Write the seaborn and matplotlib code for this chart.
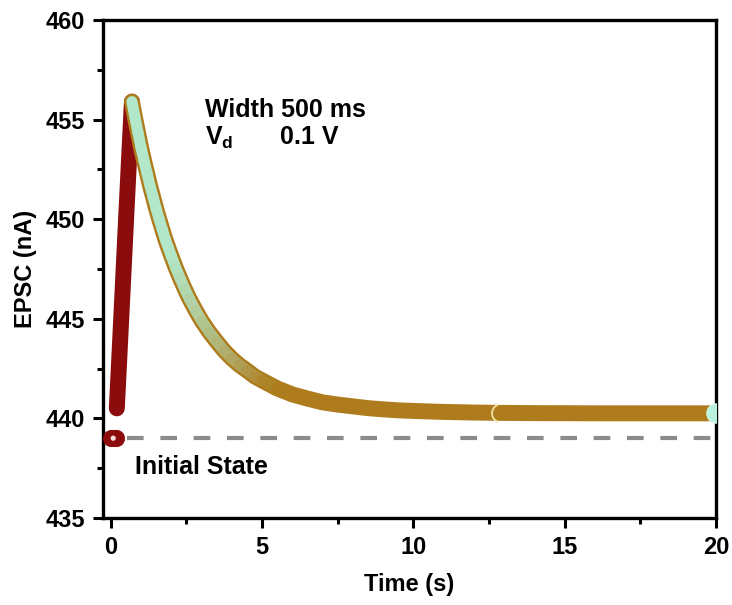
import numpy as np
import matplotlib
matplotlib.use("Agg")
import matplotlib.pyplot as plt
import seaborn as sns
from matplotlib.collections import LineCollection
from matplotlib.colors import to_rgb
from matplotlib.path import Path
from matplotlib.ticker import MultipleLocator

# ---- data ----
init_t = [0.02, 0.08, 0.14, 0.18]
init_y = [439.0, 439.0, 439.0, 439.0]

rise_t = [0.2, 0.3, 0.4, 0.5, 0.6, 0.7]
rise_y = [440.5, 443.6, 446.7, 449.8, 452.9, 455.9]

decay_t = [0.7, 0.8, 0.9, 1.0, 1.1, 1.2, 1.3, 1.4, 1.5, 1.6, 1.7, 1.8, 1.9,
           2.0, 2.15, 2.3, 2.45, 2.6, 2.8, 3.0, 3.25, 3.5, 3.75, 4.0, 4.25,
           4.5, 4.75, 5.0, 5.5, 6.0, 6.5, 7.0, 7.5, 8.0, 8.5, 9.0, 9.5, 10.0,
           11.0, 12.0, 13.0, 14.0, 16.0, 18.0, 20.0]
decay_y = [455.9, 455.1, 454.35, 453.6, 452.93, 452.3, 451.66, 451.1, 450.52,
           450.0, 449.5, 449.0, 448.57, 448.15, 447.55, 447.0, 446.48, 446.0,
           445.43, 444.9, 444.34, 443.85, 443.39, 443.0, 442.67, 442.4, 442.11,
           441.9, 441.5, 441.2, 440.99, 440.8, 440.69, 440.6, 440.51, 440.45,
           440.4, 440.37, 440.32, 440.29, 440.27, 440.26, 440.25, 440.25,
           440.25]

segment_t = [12.9, 20.0]
segment_y = [440.25, 440.25]

initial_level = 439.0
dash_t = [0.55, 20.0]

xticks = [0, 5, 10, 15, 20]
yticks = [435, 440, 445, 450, 455, 460]

# ---- style ----
sns.set_theme(style="ticks")
plt.rcParams["font.family"] = ["Liberation Sans", "DejaVu Sans"]
plt.rcParams["font.weight"] = "bold"
plt.rcParams["text.color"] = "black"
plt.rcParams["axes.labelcolor"] = "black"
plt.rcParams["mathtext.fontset"] = "custom"
plt.rcParams["mathtext.rm"] = "Liberation Sans:bold"
plt.rcParams["mathtext.bf"] = "Liberation Sans:bold"
plt.rcParams["mathtext.it"] = "Liberation Sans:bold"

RED = "#8a0c0c"
GOLD = "#ae7c1c"
MINT = "#b2e8c9"

fig = plt.figure(figsize=(7.32, 6.05), dpi=100)
ax = fig.add_axes([0.141, 0.144, 0.837, 0.823])

# baseline (initial state)
sns.lineplot(x=dash_t, y=[initial_level] * len(dash_t), ax=ax, color="#8c8c8c",
             lw=3.0, zorder=1)
ax.lines[-1].set_dashes((4, 4))

# pulse rise
sns.lineplot(x=rise_t, y=rise_y, ax=ax, color=RED, lw=11.5, sort=False,
             solid_capstyle="round", solid_joinstyle="round", zorder=2)

# initial state point
sns.scatterplot(x=init_t, y=init_y, ax=ax, color=RED, s=140, edgecolor=RED,
                linewidth=0.5, zorder=3, clip_on=False)
sns.scatterplot(x=[init_t[1]], y=[init_y[1]], ax=ax, color="#f5dede", s=14,
                edgecolor="none", zorder=4, clip_on=False)

# decay band (outer gold)
sns.lineplot(x=decay_t, y=decay_y, ax=ax, color=GOLD, lw=11.5, sort=False,
             solid_capstyle="round", solid_joinstyle="round", zorder=4)

# decay band inner colour, mint fading into gold
pts = np.column_stack([decay_t, decay_y])
segs = np.stack([pts[:-1], pts[1:]], axis=1)
mid_t = 0.5 * (np.array(decay_t[:-1]) + np.array(decay_t[1:]))
frac = np.clip((mid_t - 2.0) / 3.5, 0, 1)
c0, c1 = np.array(to_rgb(MINT)), np.array(to_rgb(GOLD))
cols = [(1 - f) * c0 + f * c1 for f in frac]
lc = LineCollection(segs, colors=cols, linewidths=8, capstyle="round",
                    joinstyle="round", zorder=5)
ax.add_collection(lc)

# segment boundary markers
arc = Path.arc(110, 250)
ax.scatter([segment_t[0]], [segment_y[0]], s=170, marker=arc, facecolors="none",
           edgecolors="#f0e4a8", linewidths=1.3, zorder=6)
ax.scatter([segment_t[1]], [segment_y[1]], s=190, c="#b8f2dc", edgecolors="#d2f5e6",
           linewidths=1.0, zorder=6)

# ---- axes ----
ax.set_xlim(-0.25, 20)
ax.set_ylim(435, 460)
ax.set_xticks(xticks)
ax.set_yticks(yticks)
ax.xaxis.set_minor_locator(MultipleLocator(2.5))
ax.yaxis.set_minor_locator(MultipleLocator(2.5))
ax.tick_params(which="major", direction="out", length=7, width=2.2,
               labelsize=17, pad=6, color="black", labelcolor="black")
ax.tick_params(which="minor", direction="out", length=4, width=2.2, color="black")
ax.tick_params(top=False, right=False, which="both")
for s in ax.spines.values():
    s.set_visible(True)
    s.set_linewidth(2.4)
    s.set_color("black")

ax.set_xlabel("Time (s)", fontsize=17, fontweight="bold", labelpad=10)
ax.set_ylabel("EPSC (nA)", fontsize=17, fontweight="bold", labelpad=6)

# ---- annotations ----
ax.text(3.1, 455.5, "Width 500 ms", fontsize=18, fontweight="bold",
        va="center", ha="left")
ax.text(3.1, 454.1, r"$\mathbf{V_d}$", fontsize=18, va="center", ha="left")
ax.text(5.6, 454.1, "0.1 V", fontsize=18, fontweight="bold",
        va="center", ha="left")
ax.text(0.8, 437.55, "Initial State", fontsize=18, fontweight="bold",
        va="center", ha="left")

fig.savefig("out.png", dpi=100, facecolor="white")
